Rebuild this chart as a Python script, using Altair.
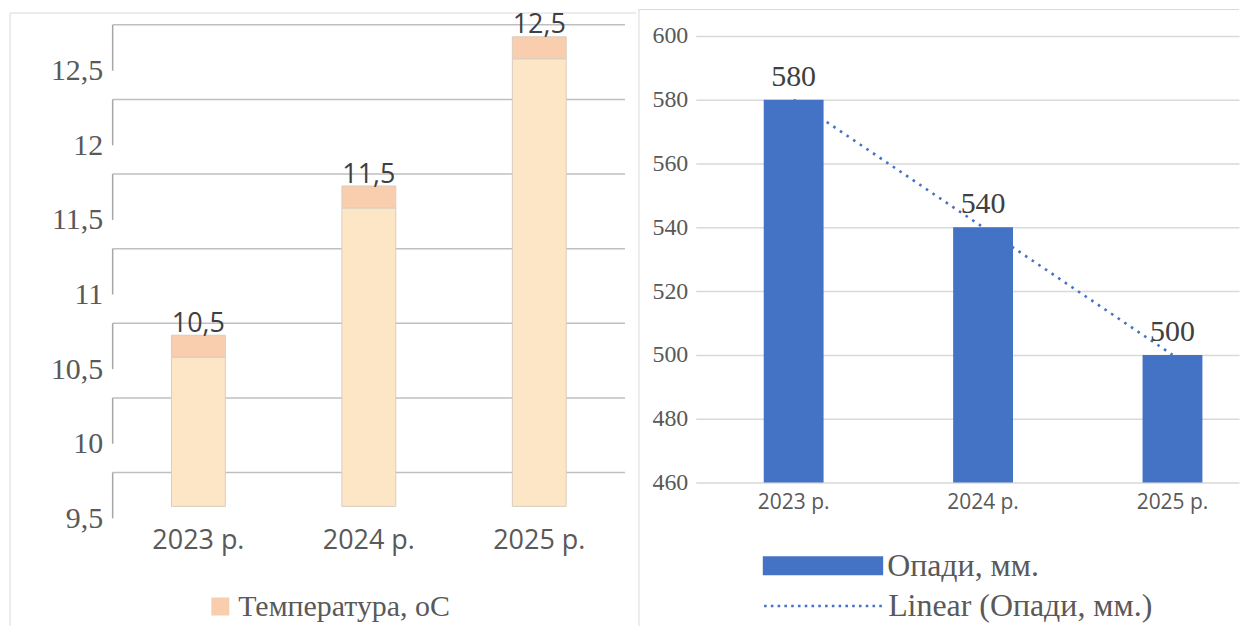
import altair as alt
import pandas as pd

# ---------------- data ----------------
years = ["2023 р.", "2024 р.", "2025 р."]
temperature = [10.5, 11.5, 12.5]
precipitation = [580, 540, 500]
temp_ticks = [9.5, 10, 10.5, 11, 11.5, 12, 12.5]
precip_ticks = [460, 480, 500, 520, 540, 560, 580, 600]
temp_series = "Температура, оС"
precip_series = "Опади, мм."
trend_series = "Linear (Опади, мм.)"

# ---------------- styles ----------------
SERIF = "Liberation Serif"
SANS = "Open Sans"
AXIS_GREY = "#595959"
LABEL_GREY = "#404040"
FRAME = "#D9D9D9"

L_W, L_H = 514, 484
R_W, R_H = 545, 448
R_OFF = 585  # x of the right plot relative to the left plot
L_PX_PER_UNIT = 149.7
L_TOP = temp_ticks[0] + L_H / L_PX_PER_UNIT

df_t = pd.DataFrame({"year": years, "t": temperature, "series": temp_series})
df_ticks = pd.DataFrame({"v": temp_ticks})
df_p = pd.DataFrame({"year": years, "p": precipitation, "series": precip_series})
df_one = pd.DataFrame({"k": [0]})

# ---------------- left chart: temperature ----------------
xL = alt.X(
    "year:N", sort=years, title=None,
    scale=alt.Scale(paddingInner=0.684, paddingOuter=0.345, align=0.5),
    axis=alt.Axis(domain=False, ticks=False, labelFont=SANS, labelFontSize=27,
                  labelColor=AXIS_GREY, labelPadding=22, labelBaseline="middle",
                  labelAngle=0),
)
yL_scale = alt.Scale(domain=[temp_ticks[0], L_TOP], zero=False, nice=False)
yL_axis = alt.Axis(values=temp_ticks, labelExpr="replace(toString(datum.value), '.', ',')",
                   domain=False, ticks=False, grid=False, labelFont=SERIF, labelFontSize=30,
                   labelColor=AXIS_GREY, labelPadding=10, labelFlush=False)

grid_back = alt.Chart(df_ticks).mark_rule(color="#BFBFBF", strokeWidth=1.5, yOffset=-46).encode(
    y=alt.Y("v:Q", scale=yL_scale, axis=yL_axis, title=None),
    x=alt.value(0), x2=alt.value(L_W),
)
wall_ticks = alt.Chart(df_ticks).mark_rule(color="#A6A6A6", strokeWidth=1.5, yOffset=-46).encode(
    y=alt.Y("v:Q", scale=yL_scale, axis=yL_axis, title=None),
    y2=alt.Y2("v:Q"),
    x=alt.value(0),
)
front = alt.Chart(df_t).mark_bar(fill="#FDE6C6", stroke="#D9CDBE", strokeWidth=1,
                                 yOffset=-12, y2Offset=-12).encode(
    x=xL,
    y=alt.Y("t:Q", scale=yL_scale, axis=yL_axis, title=None),
    y2=alt.Y2(datum=temp_ticks[0]),
)
top_face = alt.Chart(df_t).mark_bar(stroke="#D9CDBE", strokeWidth=1,
                                    yOffset=-34, y2Offset=-12).encode(
    x=xL,
    y=alt.Y("t:Q", scale=yL_scale, axis=yL_axis, title=None),
    y2=alt.Y2("t:Q"),
    color=alt.Color("series:N", scale=alt.Scale(domain=[temp_series], range=["#F9CEAF"]),
                    legend=alt.Legend(title=None, orient="none", legendX=93, legendY=556.5,
                                      symbolType="square", symbolSize=324, symbolStrokeWidth=0,
                                      clipHeight=32, padding=0, labelFont=SERIF, labelFontSize=30,
                                      labelColor=AXIS_GREY, labelOffset=3, labelLimit=600)),
)
labels_t = alt.Chart(df_t).transform_calculate(
    label="replace(format(datum.t, '.1f'), '.', ',')"
).mark_text(font=SANS, fontSize=27, color=LABEL_GREY, dy=-45.5, baseline="middle").encode(
    x=xL,
    y=alt.Y("t:Q", scale=yL_scale, axis=yL_axis, title=None),
    text="label:N",
)
frame_l_v = alt.Chart(df_one).mark_rule(color=FRAME, strokeWidth=1).encode(
    x=alt.value(-103), y=alt.value(-23), y2=alt.value(592))
frame_l_h = alt.Chart(df_one).mark_rule(color=FRAME, strokeWidth=1).encode(
    x=alt.value(-103), x2=alt.value(525), y=alt.value(-23))

left = alt.layer(frame_l_v, frame_l_h, grid_back, wall_ticks, front, top_face, labels_t).properties(
    width=L_W, height=L_H)

# ---------------- right chart: precipitation ----------------
xR = alt.X(
    "year:N", sort=years, title=None,
    scale=alt.Scale(paddingInner=0.684, paddingOuter=0.276, align=0.65),
    axis=alt.Axis(domain=False, ticks=False, labelFont=SANS, labelFontSize=21,
                  labelColor=AXIS_GREY, labelPadding=20, labelBaseline="middle",
                  labelAngle=0),
)
yR_scale = alt.Scale(domain=[precip_ticks[0], precip_ticks[-1]], zero=False, nice=False)
yR_axis = alt.Axis(values=precip_ticks, domain=False, ticks=False, grid=True, gridColor=FRAME,
                   gridWidth=1.5, labelFont=SERIF, labelFontSize=24, labelColor=AXIS_GREY,
                   labelPadding=8, labelFlush=False)

trend = alt.Chart(df_p).transform_window(
    i="row_number()"
).transform_calculate(i="datum.i - 1").transform_regression(
    "i", "p", method="linear"
).transform_calculate(
    year="%s[datum.i]" % str(years).replace("'", '"'),
    series="'%s'" % trend_series,
).mark_line(strokeWidth=2.6, strokeDash=[2.6, 5.4], strokeCap="butt").encode(
    x=xR,
    y=alt.Y("p:Q", scale=yR_scale, axis=yR_axis, title=None),
    stroke=alt.Stroke("series:N", scale=alt.Scale(domain=[trend_series], range=["#4472C4"]),
                      legend=alt.Legend(title=None, orient="none", legendX=R_OFF + 67, legendY=556,
                                        symbolType="stroke", symbolSize=14641, symbolStrokeWidth=2.6,
                                        symbolDash=[2.6, 4.2], clipHeight=32, padding=0,
                                        labelFont=SERIF, labelFontSize=32, labelColor=AXIS_GREY,
                                        labelOffset=2, labelLimit=600)),
)
bars_p = alt.Chart(df_p).mark_bar().encode(
    x=xR,
    y=alt.Y("p:Q", scale=yR_scale, axis=yR_axis, title=None),
    y2=alt.Y2(datum=precip_ticks[0]),
    fill=alt.Fill("series:N", scale=alt.Scale(domain=[precip_series], range=["#4472C4"]),
                  legend=alt.Legend(title=None, orient="none", legendX=R_OFF + 67, legendY=515.5,
                                    symbolType="M-1,-0.157H1V0.157H-1Z", symbolSize=14641,
                                    symbolStrokeWidth=0, clipHeight=32, padding=0,
                                    labelFont=SERIF, labelFontSize=32, labelColor=AXIS_GREY,
                                    labelOffset=4, labelLimit=600)),
)
labels_p = alt.Chart(df_p).mark_text(font=SERIF, fontSize=30, color=LABEL_GREY, dy=-23,
                                     baseline="middle").encode(
    x=xR,
    y=alt.Y("p:Q", scale=yR_scale, axis=yR_axis, title=None),
    text=alt.Text("p:Q"),
)
frame_r_v = alt.Chart(df_one).mark_rule(color=FRAME, strokeWidth=1).encode(
    x=alt.value(-57), y=alt.value(-26.5), y2=alt.value(592))
frame_r_h = alt.Chart(df_one).mark_rule(color=FRAME, strokeWidth=1).encode(
    x=alt.value(-57), x2=alt.value(545), y=alt.value(-26.5))

right = alt.layer(frame_r_v, frame_r_h, trend, bars_p, labels_p).properties(width=R_W, height=R_H)

chart = alt.hconcat(left, right, spacing=1).properties(
    padding={"left": 1, "top": 0, "right": 0, "bottom": 0},
    background="white",
).configure_view(stroke=None)

chart.save("out.html", embed_options={"renderer": "svg", "actions": False})
